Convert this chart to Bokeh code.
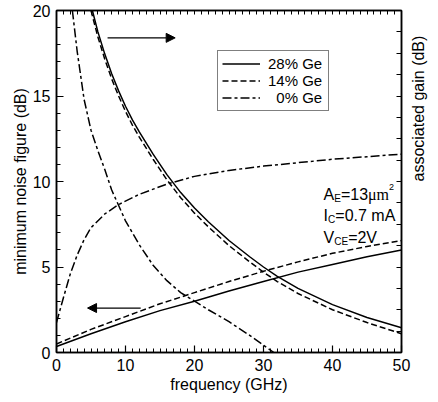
import math
from bokeh.plotting import figure
from bokeh.models import (LinearAxis, Range1d, FixedTicker, Legend, LegendItem,
                          Label, Arrow, NormalHead)
from bokeh.embed import file_html
from bokeh.resources import INLINE

SANS = "Liberation Sans"
SERIF = "Liberation Serif"

# ticks
x_ticks = [0, 10, 20, 30, 40, 50]
x_minor = list(range(0, 51))
y_ticks = [0, 5, 10, 15, 20]
y_minor = list(range(0, 21))
r_minor = [i * 1.25 for i in range(0, 17)]

# minimum noise figure (dB) vs frequency (GHz)
nf_freq = [0, 5, 10, 15, 20, 25, 30, 35, 40, 45, 50]
nf_28 = [0.35, 1.1, 1.8, 2.45, 3.0, 3.6, 4.15, 4.7, 5.15, 5.6, 6.0]
nf_14 = [0.5, 1.35, 2.1, 2.85, 3.5, 4.15, 4.75, 5.3, 5.8, 6.2, 6.55]
nf0_freq = [0, 1, 2, 3, 4, 5, 7, 9, 12, 16, 20, 25, 30, 35, 40, 45, 50]
nf_0 = [1.75, 3.2, 4.6, 5.7, 6.6, 7.3, 8.1, 8.65, 9.25, 9.85, 10.3, 10.65,
        10.9, 11.1, 11.3, 11.45, 11.6]

# associated gain (dB) vs frequency (GHz)
ga28_freq = [5.2, 6, 7, 8, 9, 10, 11, 12, 14, 16, 18, 20, 22, 25, 28, 30, 32,
             35, 40, 45, 50]
ga_28 = [20, 18.75, 17.45, 16.3, 15.3, 14.4, 13.6, 12.9, 11.6, 10.4, 9.35, 8.45,
         7.65, 6.55, 5.6, 5.0, 4.45, 3.75, 2.8, 2.05, 1.45]
ga14_freq = [5.0, 6, 7, 8, 9, 10, 11, 12, 14, 16, 18, 20, 22, 25, 28, 30, 32,
             35, 40, 45, 50]
ga_14 = [20, 18.45, 17.15, 16.0, 15.0, 14.1, 13.3, 12.6, 11.3, 10.1, 9.05, 8.15,
         7.35, 6.25, 5.3, 4.7, 4.15, 3.45, 2.5, 1.75, 1.1]
ga0_freq = [2.3, 3, 4, 5, 6, 7, 8, 10, 12, 14, 16, 18, 20, 22, 25, 28, 31.5]
ga_0 = [20, 17.6, 14.8, 13.0, 11.8, 10.7, 9.5, 7.7, 6.3, 5.1, 4.2, 3.5, 3.0,
        2.5, 1.8, 1.0, 0]

labels = ["28% Ge", "14% Ge", "\u20070% Ge"]
dashes = ["solid", "6 3", "9 3 3 3"]

# annotation arrows (freq start, freq end, dB)
arrow_gain = [7.4, 17.2, 18.4]
arrow_nf = [12.2, 4.5, 2.6]

p = figure(frame_width=345, frame_height=342, x_range=Range1d(0, 50),
           y_range=Range1d(0, 20), output_backend="svg", toolbar_location=None,
           min_border_left=56, min_border_right=35, min_border_top=10,
           min_border_bottom=48)
p.xgrid.visible = False
p.ygrid.visible = False
p.outline_line_color = "black"
p.outline_line_width = 1.5
p.background_fill_color = "white"
p.border_fill_color = "white"

def style_axis(ax):
    ax.axis_line_width = 1.5
    ax.axis_line_color = "black"
    ax.major_tick_in = 7
    ax.major_tick_out = 0
    ax.minor_tick_in = 4
    ax.minor_tick_out = 0
    ax.major_tick_line_width = 1.2
    ax.minor_tick_line_width = 1
    ax.major_label_text_font = SANS
    ax.major_label_text_font_size = "16px"
    ax.major_label_text_color = "black"
    ax.axis_label_text_font = SANS
    ax.axis_label_text_font_size = "16px"
    ax.axis_label_text_font_style = "normal"
    ax.axis_label_text_color = "black"

p.xaxis.ticker = FixedTicker(ticks=x_ticks, minor_ticks=x_minor)
p.yaxis.ticker = FixedTicker(ticks=y_ticks, minor_ticks=y_minor)
p.xaxis.axis_label = "frequency (GHz)"
p.yaxis.axis_label = "minimum noise figure (dB)"
style_axis(p.xaxis[0])
style_axis(p.yaxis[0])
p.xaxis.major_label_standoff = 6
p.xaxis.axis_label_standoff = 2
p.yaxis.major_label_standoff = 6
p.yaxis.axis_label_standoff = 1

# top axis: tick marks only (no labels)
top = LinearAxis(ticker=FixedTicker(ticks=[], minor_ticks=x_minor))
style_axis(top)
top.major_label_standoff = 0
p.add_layout(top, "above")

# right axis: tick marks only, with its title
right = LinearAxis(ticker=FixedTicker(ticks=[], minor_ticks=r_minor),
                   axis_label="associated gain (dB)")
style_axis(right)
right.minor_tick_in = 5
right.major_label_standoff = 0
right.axis_label_standoff = 17
right.axis_label_orientation = math.pi / 2
p.add_layout(right, "right")

lw = 1.5
r28 = p.line(nf_freq, nf_28, line_color="black", line_width=lw, line_dash=dashes[0])
r14 = p.line(nf_freq, nf_14, line_color="black", line_width=lw, line_dash=dashes[1])
r0 = p.line(nf0_freq, nf_0, line_color="black", line_width=lw, line_dash=dashes[2])
p.line(ga28_freq, ga_28, line_color="black", line_width=lw, line_dash=dashes[0])
p.line(ga14_freq, ga_14, line_color="black", line_width=lw, line_dash=dashes[1])
p.line(ga0_freq, ga_0, line_color="black", line_width=lw, line_dash=dashes[2])

legend = Legend(items=[LegendItem(label=labels[0], renderers=[r28]),
                       LegendItem(label=labels[1], renderers=[r14]),
                       LegendItem(label=labels[2], renderers=[r0])],
                location=(161, 241))
legend.border_line_color = "black"
legend.border_line_width = 1.2
legend.background_fill_color = "white"
legend.background_fill_alpha = 1
legend.padding = 4
legend.margin = 0
legend.spacing = 0
legend.glyph_width = 38
legend.glyph_height = 17
legend.label_height = 17
legend.label_standoff = 8
legend.label_width = 56
legend.label_text_font = SANS
legend.label_text_font_size = "15px"
legend.label_text_color = "black"
p.add_layout(legend)

for xs, xe, yy in [arrow_gain, arrow_nf]:
    p.add_layout(Arrow(end=NormalHead(size=9, fill_color="black", line_color="black",
                                      line_width=1),
                       x_start=xs, y_start=yy, x_end=xe, y_end=yy,
                       line_color="black", line_width=1.3))

def txt(x, y, s, dx, dy=0, size="16px", font=SANS):
    p.add_layout(Label(x=x, y=y, text=s, x_offset=dx, y_offset=dy,
                       text_font=font, text_font_size=size, text_color="black",
                       text_baseline="alphabetic", text_align="left"))

ax0 = 38.7
txt(ax0, 9.24, "A", 0)
txt(ax0, 9.24, "E", 10.7, -4, "10px")
txt(ax0, 9.24, "=13", 17.4)
txt(ax0, 9.24, "\u03bcm", 44.5, 0, "16px", SERIF)
txt(ax0, 9.24, "2", 65.5, 7, "9px")

txt(ax0, 8.0, "I", 0)
txt(ax0, 8.0, "C", 4.5, -4, "10px")
txt(ax0, 8.0, "=0.7 mA", 11.8)

txt(ax0, 6.73, "V", 0)
txt(ax0, 6.73, "CE", 10.7, -4, "10px")
txt(ax0, 6.73, "=2V", 24.6)

open("out.html", "w").write(file_html(p, INLINE))
